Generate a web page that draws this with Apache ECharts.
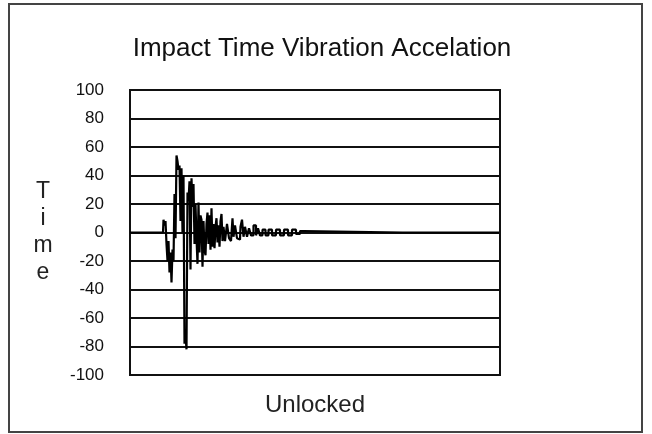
<!DOCTYPE html>
<html>
<head>
<meta charset="utf-8">
<script src="https://cdn.jsdelivr.net/npm/echarts@6/dist/echarts.min.js"></script>
<style>
html,body{margin:0;padding:0;background:#fff;}
#chart{width:652px;height:434px;}
</style>
</head>
<body>
<div id="chart"></div>
<script>
// Sample times (arbitrary units along the recording) and acceleration readings
const sampleTimes = [0,33,34,35,36,37,38,39,40,41,42,43,44,45,46,47,48,49,50,51,52,53,54,55,56,57,58,59,60,61,62,63,64,65,66,67,68,69,70,71,72,73,74,75,76,77,78,79,80,81,82,83,84,85,86,87,88,89,90,91,92,93,94,96,98,100,102,103,104,106,108,110,111,113,114,116,118,120,122,125,127,129,131,134,137,140,144,148,152,156,160,164,168,172,176,369];
const accelValues = [0,0,9,5,8,-8,-20,-6,-28,-14,-35,-12,-20,27,-4,54,50,44,47,8,45,0,40,-78,-72,-82,28,22,36,-26,38,18,34,-8,20,-4,-22,21,-14,12,9,-24,8,-12,-16,6,14,-8,12,-12,17,-10,6,-11,4,10,-7,5,-10,8,13,-6,4,-6,6,-4,-6,10,-3,5,-4,-5,4,9,-3,4,-3,3,-2,5,-2,3,-2,2,-2,2,-2,2,-2,2,-2,2,-1,1,0,0];
const yTicks = [-100,-80,-60,-40,-20,0,20,40,60,80,100];
const titleText = 'Impact Time Vibration Accelation';
const xName = 'Unlocked';
const yName = 'Time';

const chart = echarts.init(document.getElementById('chart'), null, {renderer:'canvas'});
const points = sampleTimes.map((t,i)=>[t, accelValues[i]]);
chart.setOption({
  animation:false,
  backgroundColor:'#fff',
  title:{
    text:titleText, left:317, top:31, textAlign:'center',
    textStyle:{fontFamily:'Liberation Sans, Arial, sans-serif', fontSize:26, fontWeight:'normal', color:'#111'}
  },
  graphic:[{
    type:'rect', shape:{x:9,y:4,width:633,height:428},
    style:{fill:null, stroke:'#444', lineWidth:2}, silent:true
  }],
  grid:{left:130, top:90, right:152, bottom:59, show:true, borderColor:'#111', borderWidth:2, containLabel:false},
  xAxis:{
    type:'value', min:0, max:370,
    name:xName, nameLocation:'middle', nameGap:18,
    nameTextStyle:{fontFamily:'Liberation Sans, Arial, sans-serif', fontSize:24, color:'#222'},
    axisLine:{show:false}, axisTick:{show:false}, axisLabel:{show:false}, splitLine:{show:false}
  },
  yAxis:{
    type:'value', min:yTicks[0], max:yTicks[yTicks.length-1], interval:20,
    name:yName.split('').join('\n'), nameLocation:'middle', nameGap:87, nameRotate:0,
    nameTextStyle:{fontFamily:'Liberation Sans, Arial, sans-serif', fontSize:23, lineHeight:27, color:'#222', align:'center', verticalAlign:'middle'},
    axisLine:{show:false}, axisTick:{show:false},
    axisLabel:{margin:26, fontFamily:'Liberation Sans, Arial, sans-serif', fontSize:17, color:'#111'},
    splitLine:{show:true, lineStyle:{color:'#111', width:2}}
  },
  series:[{
    type:'line', data:points, showSymbol:false, symbol:'none', step:'middle',
    lineStyle:{color:'#000', width:2.2}, z:5
  }]
});
</script>
</body>
</html>
